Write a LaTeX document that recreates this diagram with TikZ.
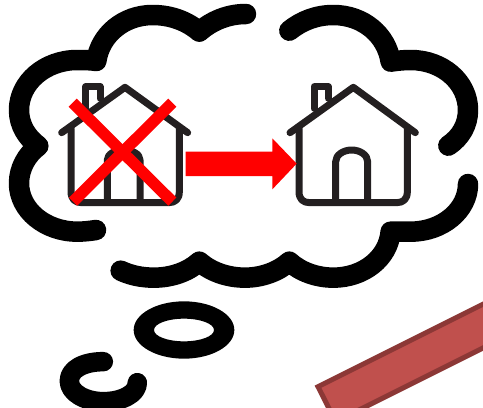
\documentclass[tikz,border=0pt]{standalone}
\definecolor{housecol}{HTML}{231F20}
\definecolor{barfill}{HTML}{C0504D}
\definecolor{barline}{HTML}{8C3836}
\tikzset{
  x=0.33333pt,y=-0.33333pt,
  cloud/.style={draw=black,line width=20.5pt,line cap=round,line join=round},
  house/.style={draw=housecol,line width=7pt,line cap=round,line join=round},
  cross/.style={draw=red,line width=11.5pt,line cap=butt},
}
\begin{document}
\begin{tikzpicture}
\useasboundingbox (0,0) rectangle (1449,1224);
\clip (0,0) rectangle (1449,1224);
% cloud
\draw[cloud] (738,42) .. controls (685,42) and (635,62) .. (598,95)
  .. controls (560,62) and (510,45) .. (458,45)
  .. controls (370,45) and (300,105) .. (289,183)
  .. controls (270,180) and (250,180) .. (232,180)
  .. controls (135,180) and (57,247) .. (57,330)
  .. controls (57,375) and (80,412) .. (115,438)
  .. controls (80,464) and (57,505) .. (57,550)
  .. controls (57,630) and (135,695) .. (232,695)
  .. controls (250,695) and (270,693) .. (288,690);
\draw[cloud] (362,812) .. controls (392,826) and (425,833) .. (462,833)
  .. controls (515,833) and (565,815) .. (598,785)
  .. controls (632,815) and (682,833) .. (735,833)
  .. controls (785,833) and (835,815) .. (868,785)
  .. controls (900,815) and (950,833) .. (1000,833)
  .. controls (1090,833) and (1165,775) .. (1172,695)
  .. controls (1192,694) and (1212,695) .. (1232,695)
  .. controls (1328,695) and (1404,630) .. (1404,552);
\draw[cloud] (1345,437) .. controls (1382,412) and (1404,375) .. (1404,330)
  .. controls (1404,247) and (1328,180) .. (1232,180)
  .. controls (1212,180) and (1192,182) .. (1172,185)
  .. controls (1160,105) and (1090,45) .. (1000,45)
  .. controls (950,45) and (905,62) .. (868,92);
% thought bubbles
\fill[black,even odd rule] (552,990) ellipse [x radius=151,y radius=86]
  (552,990) ellipse [x radius=90,y radius=34];
\draw[cloud,line width=19.5pt] (310,1085) .. controls (250,1085) and (208,1108) .. (208,1143)
  .. controls (208,1178) and (255,1205) .. (310,1205)
  .. controls (365,1205) and (412,1182) .. (412,1148);
% left house
\draw[house] (185,398) -- (375,262) -- (563,398);
\draw[house] (213,385) -- (213,575) .. controls (213,597) and (225,608) .. (245,608)
  -- (506,608) .. controls (526,608) and (538,597) .. (538,575) -- (538,385);
\draw[house] (322,600) -- (322,480) .. controls (322,462) and (345,450) .. (371,450)
  .. controls (397,450) and (420,462) .. (420,480) -- (420,600);
\draw[house] (257,325) -- (257,260) -- (300,260) -- (300,295);
% right house
\draw[house] (870,398) -- (1060,262) -- (1246,398);
\draw[house] (897,385) -- (897,575) .. controls (897,597) and (909,608) .. (929,608)
  -- (1190,608) .. controls (1210,608) and (1222,597) .. (1222,575) -- (1222,385);
\draw[house] (1007,600) -- (1007,485) .. controls (1007,465) and (1030,450) .. (1055,450)
  .. controls (1080,450) and (1103,465) .. (1103,485) -- (1103,600);
\draw[house] (942,325) -- (942,260) -- (985,260) -- (985,295);
% red cross
\draw[cross] (218,308) -- (517,605);
\draw[cross] (517,308) -- (219,605);
% red arrow
\fill[red] (557,455) -- (817,455) -- (817,415) -- (890,491) -- (817,568) -- (817,528) -- (557,528) -- cycle;
% bar
\draw[draw=barline,fill=barfill,line width=5pt,line join=miter] (954,1160) -- (1520,877) -- (1573,982) -- (1007,1265) -- cycle;
\end{tikzpicture}
\end{document}
